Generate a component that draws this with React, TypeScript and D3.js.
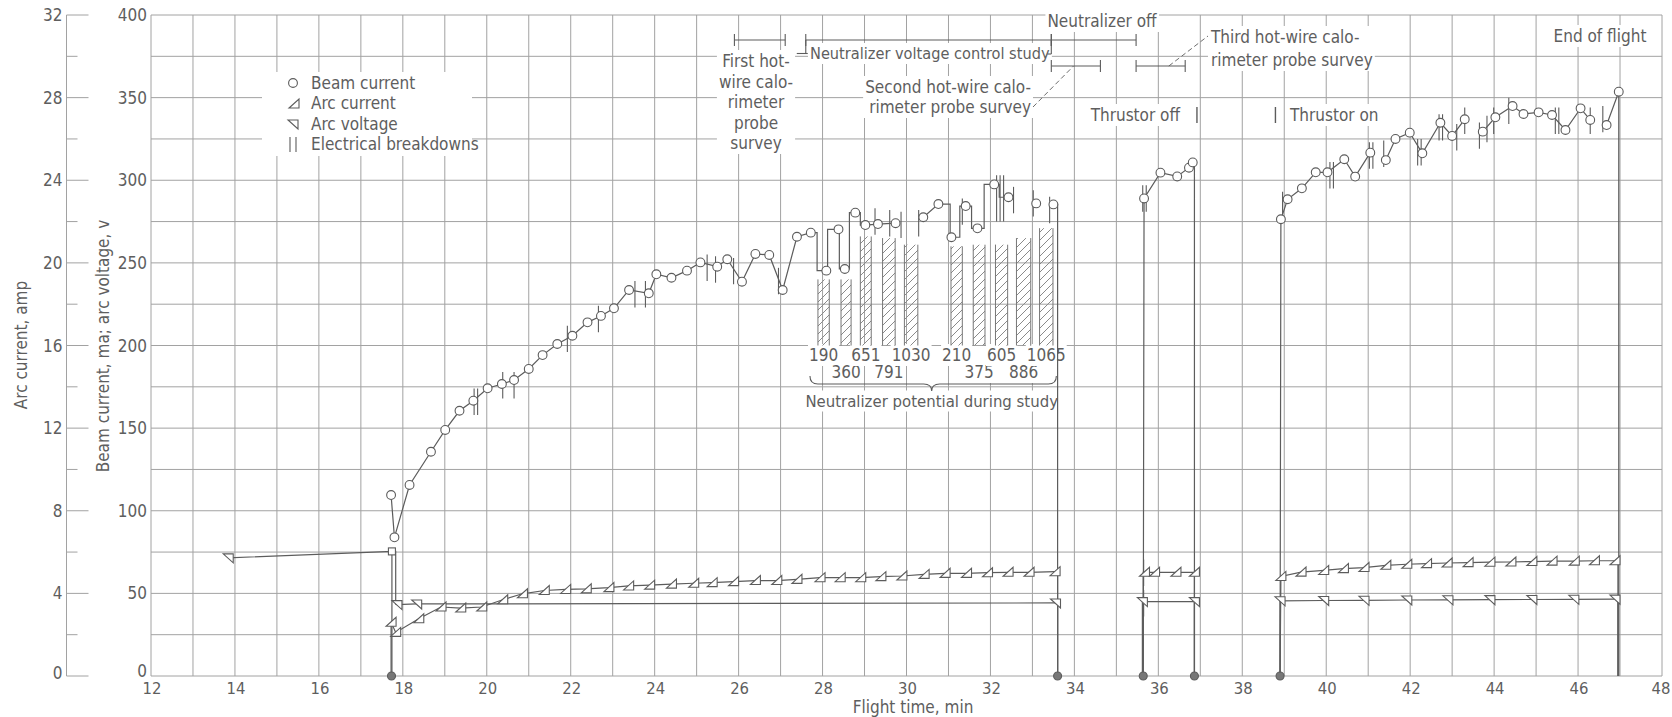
import React, { useEffect, useRef } from 'react';
import * as d3 from 'd3';

const WIDTH = 1672;
const HEIGHT = 717;
const FONT = "'Liberation Sans Narrow', 'DejaVu Sans Condensed', 'Roboto Condensed', Roboto, sans-serif";
const C_GRID = '#a2a2a2';
const C_LINE = '#5c5c5c';
const C_TEXT = '#5e5e5e';

// Axis ticks
const timeTicks = d3.range(12, 49, 2);
const beamTicks = d3.range(0, 401, 50);
const ampTicks = d3.range(0, 33, 4);

// [flight time (min), value, kind] ; kind 1 = plotted point, 0 = trace corner, 2 = square point; null = break
type P = [number, number, number] | null;

// Beam current, ma
const beamRun1: P[] = [
  [17.72, 109.5, 1], [17.8, 83.9, 1], [18.16, 115.6, 1], [18.67, 135.7, 1], [19.01, 148.9, 1],
  [19.35, 160.5, 1], [19.68, 166.6, 1], [20.02, 174.1, 1], [20.36, 176.7, 1], [20.65, 179.1, 1],
  [21.0, 185.8, 1], [21.33, 194.2, 1], [21.68, 200.9, 1], [22.04, 205.9, 1], [22.4, 214.0, 1],
  [22.72, 217.9, 1], [23.03, 222.5, 1], [23.39, 233.6, 1], [23.86, 231.6, 1], [24.04, 243.1, 1],
  [24.4, 241.0, 1], [24.77, 245.3, 1], [25.09, 250.3, 1], [25.49, 247.7, 1], [25.73, 252.2, 1],
  [26.08, 238.6, 1], [26.4, 255.4, 1], [26.73, 254.8, 1], [27.05, 233.6, 1], [27.39, 265.8, 1],
  [27.72, 268.3, 1], [27.87, 268.3, 0], [27.87, 245.3, 0], [28.09, 245.3, 1],
  [28.12, 245.3, 0], [28.12, 270.3, 0], [28.38, 270.3, 1],
  [28.4, 270.3, 0], [28.4, 246.3, 0], [28.53, 246.3, 1],
  [28.64, 246.3, 0], [28.64, 280.4, 0], [28.78, 280.4, 1],
  [28.9, 280.4, 0], [28.9, 272.9, 0], [29.02, 272.9, 1], [29.32, 273.5, 1], [29.74, 274.0, 1],
  null,
  [30.4, 277.6, 1], [30.76, 285.6, 1], [31.04, 285.6, 0], [31.04, 265.5, 0], [31.07, 265.5, 1],
  [31.27, 265.5, 0], [31.27, 284.4, 0], [31.41, 284.4, 1],
  [31.55, 284.4, 0], [31.55, 270.9, 0], [31.69, 270.9, 1],
  [31.85, 270.9, 0], [31.85, 297.5, 0], [32.09, 297.5, 1],
  [32.21, 297.5, 0], [32.21, 289.7, 0], [32.43, 289.7, 1],
  null,
  [33.09, 286.0, 1],
  null,
  [33.5, 285.4, 1], [33.6, 285.4, 0], [33.6, 0, 0],
];
const beamRun2: P[] = [
  [35.64, 0, 0], [35.66, 289.0, 1], [36.05, 304.6, 1], [36.45, 302.3, 1], [36.73, 307.6, 1],
  [36.82, 310.8, 1], [36.86, 310.8, 0], [36.86, 0, 0],
];
const beamRun3: P[] = [
  [38.9, 0, 0], [38.92, 276.4, 1], [39.08, 288.5, 1], [39.42, 295.1, 1], [39.75, 304.8, 1],
  [40.03, 304.8, 1], [40.43, 312.7, 1], [40.69, 302.2, 1], [41.05, 316.7, 1],
  null,
  [41.42, 312.2, 1], [41.65, 325.0, 1], [41.99, 328.8, 1], [42.29, 316.3, 1], [42.72, 334.8, 1],
  [43.0, 326.8, 1], [43.3, 336.9, 1],
  null,
  [43.73, 329.4, 1], [44.03, 338.1, 1], [44.44, 344.9, 1], [44.7, 340.1, 1], [45.06, 341.1, 1],
  [45.38, 339.5, 1], [45.7, 330.4, 1], [46.06, 343.5, 1], [46.29, 336.5, 1],
  null,
  [46.68, 333.4, 1], [46.97, 353.6, 1], [46.97, 0, 0],
];

// Arc current, amp
const arcCurrentRun1: P[] = [
  [17.72, 0, 0], [17.72, 2.6, 1], [17.83, 2.11, 1], [18.38, 2.77, 1], [18.91, 3.34, 1],
  [19.38, 3.29, 1], [19.88, 3.34, 1], [20.38, 3.69, 1], [20.85, 3.98, 1], [21.37, 4.14, 1],
  [21.88, 4.19, 1], [22.37, 4.22, 1], [22.91, 4.28, 1], [23.38, 4.36, 1], [23.88, 4.4, 1],
  [24.4, 4.45, 1], [24.93, 4.49, 1], [25.37, 4.52, 1], [25.88, 4.57, 1], [26.4, 4.62, 1],
  [26.91, 4.62, 1], [27.39, 4.68, 1], [27.94, 4.76, 1], [28.42, 4.76, 1], [28.91, 4.76, 1],
  [29.39, 4.81, 1], [29.89, 4.84, 1], [30.42, 4.92, 1], [30.92, 4.97, 1], [31.43, 4.97, 1],
  [31.93, 5.0, 1], [32.42, 5.02, 1], [32.92, 5.02, 1], [33.54, 5.05, 1], [33.6, 5.05, 0], [33.6, 0, 0],
];
const arcCurrentRun2: P[] = [
  [35.64, 0, 0], [35.64, 5.02, 0], [35.67, 5.02, 1], [35.91, 5.02, 1], [36.42, 5.02, 1],
  [36.86, 5.02, 1], [36.86, 0, 0],
];
const arcCurrentRun3: P[] = [
  [38.9, 0, 0], [38.92, 4.82, 1], [39.4, 5.03, 1], [39.94, 5.11, 1], [40.41, 5.2, 1],
  [40.9, 5.25, 1], [41.42, 5.36, 1], [41.92, 5.41, 1], [42.39, 5.44, 1], [42.88, 5.47, 1],
  [43.38, 5.49, 1], [43.9, 5.51, 1], [44.4, 5.52, 1], [44.9, 5.54, 1], [45.38, 5.56, 1],
  [45.91, 5.56, 1], [46.39, 5.58, 1], [46.88, 5.58, 1], [46.95, 5.58, 0], [46.95, 0, 0],
];

// Arc voltage, v
const arcVoltageRun1: P[] = [
  [13.84, 71.5, 1], [17.74, 75.4, 2], [17.74, 0, 0],
  null,
  [17.74, 75.4, 0], [17.83, 75.4, 0], [17.83, 43.5, 0], [17.86, 43.2, 1], [18.33, 43.6, 1],
  [33.55, 44.2, 1], [33.6, 44.2, 0], [33.6, 0, 0],
];
const arcVoltageRun2: P[] = [
  [35.62, 0, 0], [35.62, 45.0, 1], [36.86, 45.0, 1], [36.86, 0, 0],
];
const arcVoltageRun3: P[] = [
  [38.9, 0, 0], [38.9, 45.5, 1], [39.94, 45.7, 1], [40.9, 45.8, 1], [41.92, 46.0, 1],
  [42.9, 46.1, 1], [43.9, 46.2, 1], [44.9, 46.3, 1], [45.9, 46.4, 1], [46.88, 46.5, 1],
  [46.95, 46.5, 0], [46.95, 0, 0],
];

// Thrustor start / stop instants, plotted on the zero line
const zeroLinePoints = [17.73, 33.6, 35.64, 36.86, 38.9];

// Electrical breakdowns: [time, value on ma/v scale, number of strokes]
const breakdowns: [number, number, number][] = [
  [19.74, 166, 2], [20.38, 176, 1], [20.65, 176, 1], [21.92, 204, 1], [22.66, 216, 1],
  [23.53, 231, 1], [23.78, 231, 1], [25.25, 247, 1], [25.45, 246, 1], [25.88, 245, 1],
  [26.95, 239, 1], [29.25, 275, 1], [29.6, 274, 1], [29.87, 273, 1], [30.29, 274, 1],
  [31.33, 281, 1], [32.23, 289, 3], [32.55, 288, 1], [33.02, 286, 1], [33.41, 282, 1],
  [35.67, 289, 2], [35.65, 62.5, 1], [35.65, 44, 1],
  [38.96, 285, 1], [40.13, 303, 2], [41.07, 315, 2], [41.37, 316, 1], [42.22, 317, 2],
  [42.73, 332, 2], [43.11, 326, 1], [43.3, 336, 1], [43.65, 327, 1], [43.83, 331, 1],
  [43.99, 336, 1], [44.35, 342, 1], [45.5, 336, 2], [46.29, 336, 1], [46.59, 337, 1],
];

// Neutralizer voltage control study: bias periods
const studyBarStart = [27.89, 28.44, 28.9, 29.43, 29.95, 31.06, 31.59, 32.12, 32.62, 33.17];
const studyBarEnd = [28.16, 28.68, 29.16, 29.73, 30.27, 31.33, 31.87, 32.41, 32.96, 33.49];
const studyBarTop = [240, 240, 266, 265, 261, 260, 261, 261, 265, 271];
const studyBarBase = 200;
const studyPotential = ['190', '360', '651', '791', '1030', '210', '375', '605', '886', '1065'];
const studyLabelRow = [0, 1, 0, 1, 0, 0, 1, 0, 1, 0];

// Event intervals along the top (flight time, min)
const firstSurvey = [25.9, 27.11];
const studyInterval = [27.6, 33.45];
const neutralizerOff = [33.45, 35.47];
const secondSurvey = [33.45, 34.62];
const thirdSurvey = [35.47, 36.64];
const thrustorOffAt = 36.92;
const thrustorOnAt = 38.79;

const legendItems = ['Beam current', 'Arc current', 'Arc voltage', 'Electrical breakdowns'];

type Sel = d3.Selection<any, unknown, null, undefined>;

function draw(svg: Sel) {
  const x = d3.scaleLinear().domain([12, 48]).range([151, 1662]);
  const y = d3.scaleLinear().domain([0, 400]).range([676, 15]);
  const yAmp = d3.scaleLinear().domain([0, 32]).range([676, 15]);

  const defs = svg.append('defs');
  const pat = defs.append('pattern').attr('id', 'hatch').attr('patternUnits', 'userSpaceOnUse')
    .attr('width', 8).attr('height', 8);
  pat.append('path').attr('d', 'M-2,2 l4,-4 M0,8 l8,-8 M6,10 l4,-4')
    .attr('stroke', '#8a8a8a').attr('stroke-width', 1);

  svg.append('rect').attr('width', WIDTH).attr('height', HEIGHT).attr('fill', '#fff');

  // grid
  const grid = svg.append('g').attr('stroke', C_GRID).attr('stroke-width', 1).attr('fill', 'none');
  grid.selectAll('line.v').data(d3.range(12, 49)).join('line')
    .attr('x1', (d) => x(d)).attr('x2', (d) => x(d)).attr('y1', y(0)).attr('y2', y(400));
  grid.selectAll('line.h').data(d3.range(0, 401, 25)).join('line')
    .attr('x1', x(12)).attr('x2', x(48)).attr('y1', (d) => y(d)).attr('y2', (d) => y(d));

  const textStyle = (s: Sel) => s.attr('font-family', FONT).attr('font-size', 17).attr('fill', C_TEXT);

  // left (arc current) axis
  const ampAxisX = 66.5;
  const axL = svg.append('g').attr('stroke', C_GRID).attr('stroke-width', 1);
  axL.append('line').attr('x1', ampAxisX).attr('x2', ampAxisX).attr('y1', yAmp(0)).attr('y2', yAmp(32));
  axL.selectAll('line.t').data(d3.range(0, 33, 2)).join('line')
    .attr('x1', ampAxisX).attr('x2', (d) => ampAxisX + (d % 4 === 0 ? 22 : 11))
    .attr('y1', (d) => yAmp(d)).attr('y2', (d) => yAmp(d));
  svg.append('g').call(textStyle).attr('text-anchor', 'end').attr('dominant-baseline', 'central')
    .selectAll('text').data(ampTicks).join('text')
    .attr('x', ampAxisX - 4).attr('y', (d) => yAmp(d) - (d === 0 ? 3 : 0)).text((d) => String(d));

  // beam current / arc voltage axis labels
  svg.append('g').call(textStyle).attr('text-anchor', 'end').attr('dominant-baseline', 'central')
    .selectAll('text').data(beamTicks).join('text')
    .attr('x', x(12) - 4).attr('y', (d) => y(d) - (d === 0 ? 5 : 0)).text((d) => String(d));

  // time axis labels
  svg.append('g').call(textStyle).attr('font-size', 16.5).attr('text-anchor', 'middle').attr('dominant-baseline', 'central')
    .selectAll('text').data(timeTicks).join('text')
    .attr('x', (d) => Math.min(x(d) + 1, WIDTH - 11)).attr('y', 688).text((d) => String(d));

  svg.append('text').call(textStyle).attr('text-anchor', 'middle').attr('dominant-baseline', 'central')
    .attr('x', 913).attr('y', 707).text('Flight time, min');
  svg.append('text').call(textStyle).attr('text-anchor', 'middle').attr('dominant-baseline', 'central')
    .attr('transform', 'translate(103,346) rotate(-90)').text('Beam current, ma; arc voltage, v');
  svg.append('text').call(textStyle).attr('text-anchor', 'middle').attr('dominant-baseline', 'central')
    .attr('transform', 'translate(21,345) rotate(-90)').text('Arc current, amp');

  // text on a white panel that hides the grid behind it
  const ann = svg.append('g');
  const boxed = (lines: string[], px: number, py: number, anchor: string, dy = 20.5, pad = 2, size = 17) => {
    const g = ann.append('g');
    const t = g.append('text').call(textStyle).attr('font-size', size).attr('text-anchor', anchor);
    lines.forEach((ln, i) => {
      t.append('tspan').attr('x', px).attr('y', py + i * dy).attr('dominant-baseline', 'central').text(ln);
    });
    const b = (t.node() as SVGTextElement).getBBox();
    g.insert('rect', 'text').attr('x', b.x - pad).attr('y', b.y - 1).attr('width', b.width + pad * 2)
      .attr('height', b.height + 2).attr('fill', '#fff');
  };

  // legend
  const legendG = svg.append('g');
  legendG.append('rect').attr('x', 262).attr('y', 72).attr('width', 210).attr('height', 84).attr('fill', '#fff');
  legendG.selectAll('text').data(legendItems).join('text').call(textStyle)
    .attr('x', 311).attr('y', (_, i) => 83 + i * 20.3).attr('dominant-baseline', 'central').text((d) => d);

  // hatched study bars
  const barsG = svg.append('g');
  studyBarStart.forEach((s, i) => {
    const e = studyBarEnd[i];
    barsG.append('rect').attr('x', x(s)).attr('y', y(studyBarTop[i])).attr('width', x(e) - x(s))
      .attr('height', y(studyBarBase) - y(studyBarTop[i])).attr('fill', 'url(#hatch)');
    [s, e].forEach((edge) => {
      barsG.append('line').attr('x1', x(edge)).attr('x2', x(edge)).attr('y1', y(studyBarTop[i]))
        .attr('y2', y(studyBarBase)).attr('stroke', '#777').attr('stroke-width', 1);
    });
  });
  studyPotential.forEach((lab, i) => {
    const cx = x((studyBarStart[i] + studyBarEnd[i]) / 2);
    boxed([lab], cx, studyLabelRow[i] === 0 ? 355 : 372, 'middle', 0, 1);
  });

  // brace over the study potentials
  const bx0 = x(27.7), bx1 = x(33.57), bm = x(30.6);
  svg.append('path')
    .attr('d', `M${bx0},376 Q${bx0},384 ${bx0 + 8},384 L${bm - 8},384 Q${bm},384 ${bm},391 Q${bm},384 ${bm + 8},384 L${bx1 - 8},384 Q${bx1},384 ${bx1},376`)
    .attr('fill', 'none').attr('stroke', C_LINE).attr('stroke-width', 1.1);
  boxed(['Neutralizer potential during study'], bm, 401, 'middle', 20.5, 2, 16.6);

  // top annotations
  boxed(['First hot-', 'wire calo-', 'rimeter', 'probe', 'survey'], 756, 61, 'middle');
  boxed(['Neutralizer voltage control study'], 810, 53.5, 'start', 20.5, 2, 16.2);
  boxed(['Neutralizer off'], 1102, 21, 'middle');
  boxed(['Second hot-wire calo-', 'rimeter probe survey'], 1031, 87, 'end', 20);
  boxed(['Third hot-wire calo-', 'rimeter probe survey'], 1211, 37, 'start', 23);
  boxed(['End of flight'], 1600, 36, 'middle');
  boxed(['Thrustor off'], 1180, 115, 'end');
  boxed(['Thrustor on'], 1290, 115, 'start');

  const annLines = svg.append('g').attr('stroke', C_LINE).attr('stroke-width', 1.1).attr('fill', 'none');
  const interval = (iv: number[], yy: number, h = 6) => {
    annLines.append('line').attr('x1', x(iv[0])).attr('x2', x(iv[1])).attr('y1', yy).attr('y2', yy);
    iv.forEach((t) => annLines.append('line').attr('x1', x(t)).attr('x2', x(t)).attr('y1', yy - h).attr('y2', yy + h));
  };
  interval(firstSurvey, 40);
  interval(studyInterval, 40);
  interval(neutralizerOff, 40);
  interval(secondSurvey, 66);
  interval(thirdSurvey, 66);
  // study leaders
  annLines.append('line').attr('x1', x(studyInterval[0])).attr('x2', x(studyInterval[0])).attr('y1', 40).attr('y2', 53.5);
  annLines.append('line').attr('x1', x(studyInterval[0]) - 9).attr('x2', x(studyInterval[0]) + 2).attr('y1', 53.5).attr('y2', 53.5);
  annLines.append('line').attr('x1', x(studyInterval[1])).attr('x2', x(studyInterval[1])).attr('y1', 40).attr('y2', 54);
  annLines.append('line').attr('x1', x(studyInterval[1]) - 4).attr('x2', x(studyInterval[1])).attr('y1', 54).attr('y2', 54);
  // dashed leaders to survey labels
  annLines.append('line').attr('x1', 1033).attr('y1', 107).attr('x2', x(33.98)).attr('y2', 66)
    .attr('stroke-dasharray', '5,3').attr('stroke-width', 0.9);
  annLines.append('line').attr('x1', x(36.25)).attr('y1', 66).attr('x2', 1208).attr('y2', 36)
    .attr('stroke-dasharray', '5,3').attr('stroke-width', 0.9);
  [thrustorOffAt, thrustorOnAt].forEach((t) => {
    annLines.append('line').attr('x1', x(t)).attr('x2', x(t)).attr('y1', 107).attr('y2', 123).attr('stroke-width', 1.4);
  });

  // data traces
  const dataG = svg.append('g');
  const traceLine = (scaleY: d3.ScaleLinear<number, number>) =>
    d3.line<P>().defined((d) => d !== null).x((d) => x(d![0])).y((d) => scaleY(d![1]));

  const beamLine = traceLine(y);
  const ampLine = traceLine(yAmp);
  [beamRun1, beamRun2, beamRun3, arcVoltageRun1, arcVoltageRun2, arcVoltageRun3].forEach((run) => {
    dataG.append('path').attr('d', beamLine(run) || '').attr('fill', 'none')
      .attr('stroke', C_LINE).attr('stroke-width', 1.2);
  });
  [arcCurrentRun1, arcCurrentRun2, arcCurrentRun3].forEach((run) => {
    dataG.append('path').attr('d', ampLine(run) || '').attr('fill', 'none')
      .attr('stroke', C_LINE).attr('stroke-width', 1.2);
  });

  // breakdown strokes
  breakdowns.forEach(([t, v, n]) => {
    for (let i = 0; i < n; i++) {
      const dx = (i - (n - 1) / 2) * 3.5;
      const half = n >= 3 ? 14 : 8;
      dataG.append('line').attr('x1', x(t) + dx).attr('x2', x(t) + dx)
        .attr('y1', y(v - half)).attr('y2', y(v + half)).attr('stroke', C_LINE).attr('stroke-width', 1.1);
    }
  });

  const triUp = 'M-5,4 L5,4 L5,-5 Z';
  const triDown = 'M-5,-4 L5,-4 L5,5 Z';
  const markG = dataG.append('g').attr('stroke', C_LINE).attr('stroke-width', 1.1).attr('fill', '#fff');
  const pts = (run: P[], k = 1) => run.filter((d) => d !== null && d[2] === k) as [number, number, number][];

  [beamRun1, beamRun2, beamRun3].forEach((run) => {
    markG.selectAll(null).data(pts(run)).join('circle')
      .attr('cx', (d) => x(d[0])).attr('cy', (d) => y(d[1])).attr('r', 4.4);
  });
  [arcCurrentRun1, arcCurrentRun2, arcCurrentRun3].forEach((run) => {
    markG.selectAll(null).data(pts(run)).join('path')
      .attr('d', triUp).attr('transform', (d) => `translate(${x(d[0])},${yAmp(d[1])})`);
  });
  [arcVoltageRun1, arcVoltageRun2, arcVoltageRun3].forEach((run) => {
    markG.selectAll(null).data(pts(run)).join('path')
      .attr('d', triDown).attr('transform', (d) => `translate(${x(d[0])},${y(d[1])})`);
    markG.selectAll(null).data(pts(run, 2)).join('rect')
      .attr('x', (d) => x(d[0]) - 3.5).attr('y', (d) => y(d[1]) - 3.5).attr('width', 7).attr('height', 7);
  });
  markG.selectAll(null).data(zeroLinePoints).join('circle')
    .attr('cx', (d) => x(d)).attr('cy', y(0)).attr('r', 4).attr('fill', '#777');

  // legend symbols
  const lg = svg.append('g').attr('stroke', C_LINE).attr('stroke-width', 1.1).attr('fill', '#fff');
  lg.append('circle').attr('cx', 293).attr('cy', 83).attr('r', 4.4);
  lg.append('path').attr('d', triUp).attr('transform', 'translate(294,104)');
  lg.append('path').attr('d', triDown).attr('transform', 'translate(293,124)');
  [290, 296].forEach((lx) => lg.append('line').attr('x1', lx).attr('x2', lx).attr('y1', 137).attr('y2', 152));
}

export default function App() {
  const ref = useRef<SVGSVGElement>(null);
  useEffect(() => {
    if (!ref.current) return;
    const svg = d3.select(ref.current) as unknown as Sel;
    svg.selectAll('*').remove();
    draw(svg);
  }, []);
  return (
    <svg
      ref={ref}
      width={WIDTH}
      height={HEIGHT}
      style={{ position: 'absolute', left: 0, top: 0, display: 'block' }}
    />
  );
}
